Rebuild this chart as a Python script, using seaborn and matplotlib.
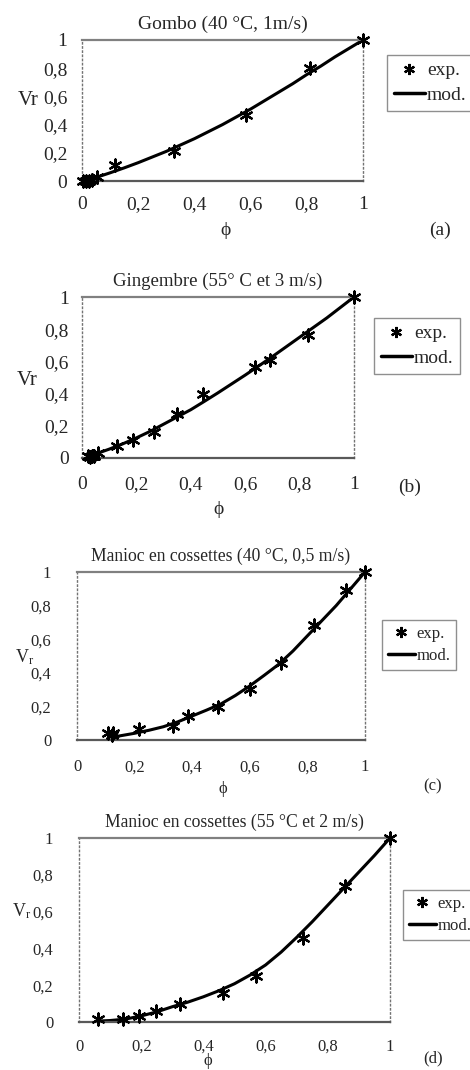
import matplotlib
matplotlib.use("Agg")
import matplotlib.pyplot as plt
from matplotlib.lines import Line2D
import seaborn as sns

# tick labels (French decimal comma)
ticks = [0, 0.2, 0.4, 0.6, 0.8, 1]
tick_labels = ["0", "0,2", "0,4", "0,6", "0,8", "1"]

# (a) Gombo
gombo_exp_x = [0.005, 0.015, 0.025, 0.035, 0.052, 0.117, 0.327, 0.584, 0.811, 1.0]
gombo_exp_y = [0.0, 0.0, 0.0, 0.01, 0.03, 0.11, 0.215, 0.468, 0.80, 1.0]
gombo_mod_x = [0.03, 0.05, 0.1, 0.15, 0.2, 0.25, 0.3, 0.35, 0.4, 0.45, 0.5,
               0.55, 0.6, 0.65, 0.7, 0.75, 0.8, 0.85, 0.9, 0.95, 1.0]
gombo_mod_y = [0.01, 0.025, 0.058, 0.093, 0.13, 0.17, 0.21, 0.255, 0.30, 0.35, 0.40,
               0.455, 0.51, 0.57, 0.63, 0.69, 0.755, 0.815, 0.88, 0.94, 1.0]

# (b) Gingembre
ging_exp_x = [0.023, 0.03, 0.036, 0.045, 0.06, 0.127, 0.189, 0.265, 0.35, 0.444, 0.636, 0.691, 0.832, 1.0]
ging_exp_y = [0.01, 0.005, 0.015, 0.01, 0.03, 0.077, 0.112, 0.164, 0.274, 0.396, 0.568, 0.61, 0.766, 1.0]
ging_mod_x = [0.03, 0.05, 0.1, 0.15, 0.2, 0.25, 0.3, 0.35, 0.4, 0.45, 0.5,
              0.55, 0.6, 0.65, 0.7, 0.75, 0.8, 0.85, 0.9, 0.95, 1.0]
ging_mod_y = [0.01, 0.025, 0.055, 0.088, 0.125, 0.165, 0.21, 0.255, 0.30, 0.352, 0.405,
              0.46, 0.515, 0.572, 0.63, 0.69, 0.75, 0.81, 0.87, 0.935, 1.0]

# (c) Manioc 40 °C
man40_exp_x = [0.109, 0.12, 0.126, 0.216, 0.334, 0.387, 0.491, 0.601, 0.708, 0.824, 0.934, 1.0]
man40_exp_y = [0.044, 0.03, 0.044, 0.065, 0.083, 0.143, 0.194, 0.303, 0.461, 0.683, 0.891, 1.0]
man40_mod_x = [0.12, 0.15, 0.2, 0.25, 0.3, 0.35, 0.4, 0.45, 0.5, 0.55,
               0.6, 0.65, 0.7, 0.75, 0.8, 0.85, 0.9, 0.95, 1.0]
man40_mod_y = [0.015, 0.025, 0.04, 0.058, 0.079, 0.108, 0.143, 0.178, 0.215, 0.265,
               0.322, 0.385, 0.45, 0.53, 0.62, 0.71, 0.80, 0.90, 1.0]

# (d) Manioc 55 °C
man55_exp_x = [0.06, 0.143, 0.193, 0.248, 0.325, 0.462, 0.568, 0.721, 0.855, 1.0]
man55_exp_y = [0.018, 0.015, 0.033, 0.058, 0.10, 0.158, 0.249, 0.458, 0.74, 1.0]
man55_mod_x = [0.06, 0.1, 0.15, 0.2, 0.25, 0.3, 0.35, 0.4, 0.45, 0.5,
               0.55, 0.6, 0.65, 0.7, 0.75, 0.8, 0.85, 0.9, 0.95, 1.0]
man55_mod_y = [0.005, 0.008, 0.016, 0.033, 0.055, 0.083, 0.108, 0.137, 0.17, 0.208,
               0.255, 0.31, 0.38, 0.46, 0.545, 0.635, 0.725, 0.815, 0.905, 1.0]

titles = ["Gombo (40 °C, 1m/s)", "Gingembre (55° C et 3 m/s)",
          "Manioc en cossettes (40 °C, 0,5 m/s)", "Manioc en cossettes (55 °C et 2 m/s)"]
letters = ["(a)", "(b)", "(c)", "(d)"]
ylabels = ["Vr", "Vr", r"V$_{\mathregular{r}}$", r"V$_{\mathregular{r}}$"]

sns.set_style("white")
plt.rcParams["font.family"] = ["Liberation Serif", "DejaVu Serif"]
plt.rcParams["mathtext.fontset"] = "stix"

W, H = 470, 1070
fig = plt.figure(figsize=(4.7, 10.7), dpi=100)

def box(l, r, t, b):
    return [l / W, 1 - b / H, (r - l) / W, (b - t) / H]

# layout per panel: axes box (px), font sizes, label spots
panels = [
    dict(ex=gombo_exp_x, ey=gombo_exp_y, mx=gombo_mod_x, my=gombo_mod_y,
         rect=box(82, 363, 40, 181), fs=14, tfs=14, ylab=(-0.19, 0.57), xlab=(0.51, -0.35),
         xpad=11, ypad=7, letter=(440, 230), leg=(387, 55)),
    dict(ex=ging_exp_x, ey=ging_exp_y, mx=ging_mod_x, my=ging_mod_y,
         rect=box(82, 354, 297, 458), fs=14, tfs=13.5, ylab=(-0.2, 0.48), xlab=(0.5, -0.32),
         xpad=13, ypad=6, letter=(410, 487), leg=(374, 318)),
    dict(ex=man40_exp_x, ey=man40_exp_y, mx=man40_mod_x, my=man40_mod_y,
         rect=box(77, 365, 572, 740), fs=12, tfs=12.7, ylab=(-0.18, 0.49), xlab=(0.507, -0.29),
         xpad=14, ypad=15, letter=(433, 786), leg=(382, 620)),
    dict(ex=man55_exp_x, ey=man55_exp_y, mx=man55_mod_x, my=man55_mod_y,
         rect=box(79, 390, 838, 1022), fs=12, tfs=12.7, ylab=(-0.183, 0.6), xlab=(0.415, -0.21),
         xpad=12, ypad=15, letter=(433, 1058), leg=(403, 890)),
]

star = (6, 2, 0)

for i, p in enumerate(panels):
    ax = fig.add_axes(p["rect"])
    sns.lineplot(x=p["mx"], y=p["my"], ax=ax, color="black", lw=2.2,
                 sort=False, estimator=None, clip_on=False)
    sns.scatterplot(x=p["ex"], y=p["ey"], ax=ax, marker=star, s=75,
                    color="black", edgecolor="black", linewidth=1.6,
                    clip_on=False, zorder=3)
    ax.set_xlim(0, 1)
    ax.set_ylim(0, 1)
    ax.set_xticks(ticks)
    ax.set_xticklabels(tick_labels)
    ax.set_yticks(ticks)
    ax.set_yticklabels(tick_labels)
    ax.set_yticks([0.1, 0.3, 0.5, 0.7, 0.9], minor=True)
    ax.tick_params(axis="y", which="major", direction="inout", length=7,
                   width=1, color="0.35", pad=p["ypad"], labelsize=p["fs"])
    ax.tick_params(axis="y", which="minor", direction="in", length=3,
                   width=0.8, color="0.5")
    ax.tick_params(axis="x", which="major", direction="in", length=3,
                   width=0.8, color="0.6", pad=p["xpad"], labelsize=p["fs"])
    for s in ["left", "right"]:
        ax.spines[s].set_linestyle((0, (1, 2)))
        ax.spines[s].set_color("0.45")
        ax.spines[s].set_linewidth(1)
    ax.spines["top"].set_color("0.5")
    ax.spines["top"].set_linewidth(1.6)
    ax.spines["bottom"].set_color("0.35")
    ax.spines["bottom"].set_linewidth(1.6)

    ax.set_title(titles[i], fontsize=p["tfs"], pad=8)
    ax.set_ylabel(ylabels[i], rotation=0, fontsize=p["fs"] + 1, va="center", ha="center")
    ax.yaxis.set_label_coords(*p["ylab"])
    ax.set_xlabel("ϕ", fontsize=p["fs"], va="center")
    ax.xaxis.set_label_coords(*p["xlab"])

    fig.text(p["letter"][0] / W, 1 - p["letter"][1] / H, letters[i],
             fontsize=p["fs"], ha="center", va="center")

    handles = [Line2D([], [], marker=star, ls="none", color="black", ms=8, mew=1.6),
               Line2D([], [], color="black", lw=2.5)]
    leg = ax.legend(handles, ["exp.", "mod."], loc="upper left",
                    bbox_to_anchor=(p["leg"][0] / W, 1 - p["leg"][1] / H),
                    bbox_transform=fig.transFigure, borderaxespad=0,
                    fontsize=p["fs"], frameon=True, fancybox=False,
                    handlelength=1.6, handletextpad=0.1, borderpad=0.35,
                    labelspacing=0.35)
    leg.get_frame().set_edgecolor("0.45")
    leg.get_frame().set_linewidth(1)

fig.savefig("out.png", dpi=100)
